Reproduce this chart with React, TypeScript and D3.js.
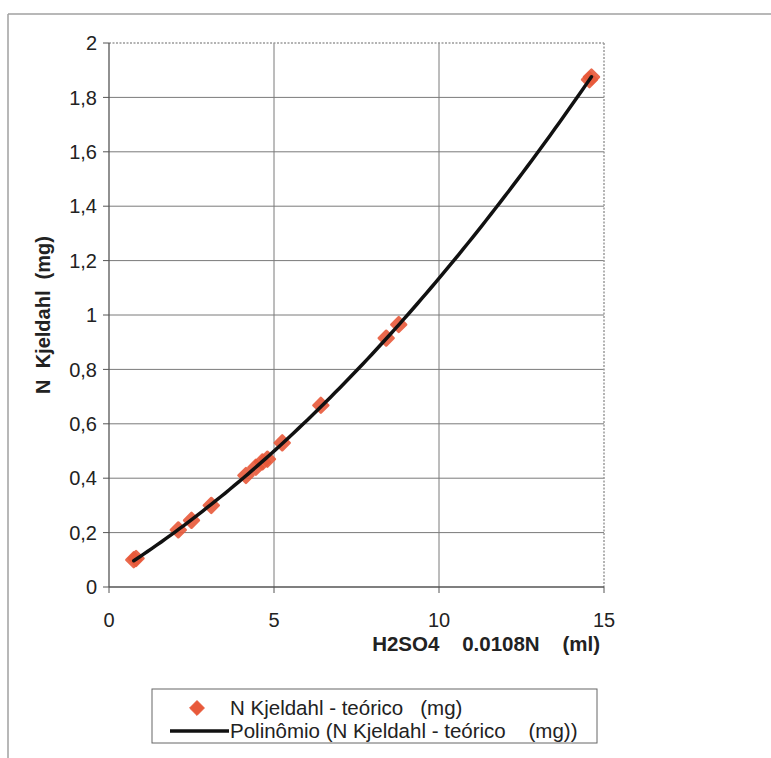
import React from "react";
import * as d3 from "d3";

// Titration volume of H2SO4 0.0108N (ml) and theoretical Kjeldahl nitrogen (mg)
const volumeMl = [0.75, 0.82, 2.1, 2.5, 3.1, 4.15, 4.45, 4.65, 4.8, 5.25, 6.42, 8.4, 8.78, 14.56, 14.62];
const nitrogenMg = [0.1, 0.105, 0.21, 0.245, 0.3, 0.41, 0.44, 0.46, 0.47, 0.53, 0.668, 0.915, 0.965, 1.865, 1.875];

const xTicks = [0, 5, 10, 15];
const yTicks = [0, 0.2, 0.4, 0.6, 0.8, 1, 1.2, 1.4, 1.6, 1.8, 2];

const legendLabels = ["N Kjeldahl - teórico   (mg)", "Polinômio (N Kjeldahl - teórico    (mg))"];

// Second-order least squares trend line
function quadFit(xs: number[], ys: number[]) {
  const n = xs.length;
  let s1 = 0, s2 = 0, s3 = 0, s4 = 0, t0 = 0, t1 = 0, t2 = 0;
  for (let i = 0; i < n; i++) {
    const x = xs[i], y = ys[i];
    s1 += x; s2 += x * x; s3 += x * x * x; s4 += x * x * x * x;
    t0 += y; t1 += x * y; t2 += x * x * y;
  }
  const M = [
    [n, s1, s2, t0],
    [s1, s2, s3, t1],
    [s2, s3, s4, t2],
  ];
  for (let i = 0; i < 3; i++) {
    for (let k = i + 1; k < 3; k++) {
      const f = M[k][i] / M[i][i];
      for (let j = i; j < 4; j++) M[k][j] -= f * M[i][j];
    }
  }
  const c = [0, 0, 0];
  for (let i = 2; i >= 0; i--) {
    let s = M[i][3];
    for (let j = i + 1; j < 3; j++) s -= M[i][j] * c[j];
    c[i] = s / M[i][i];
  }
  return (x: number) => c[0] + c[1] * x + c[2] * x * x;
}

export default function App() {
  const W = 771, H = 758;
  const left = 109, right = 604, top = 43, bottom = 587;
  const x = d3.scaleLinear().domain([0, 15]).range([left, right]);
  const y = d3.scaleLinear().domain([0, 2]).range([bottom, top]);
  const font = "Arial, 'Liberation Sans', sans-serif";

  const fit = quadFit(volumeMl, nitrogenMg);
  const x0 = d3.min(volumeMl)!, x1 = d3.max(volumeMl)!;
  const curvePts = d3.range(0, 101).map((i) => {
    const v = x0 + ((x1 - x0) * i) / 100;
    return [v, fit(v)] as [number, number];
  });
  const line = d3.line<[number, number]>().x((d) => x(d[0])).y((d) => y(d[1]))(curvePts) || "";

  const fmt = (v: number) => String(+v.toFixed(1)).replace(".", ",");
  const diamond = d3.symbol().type(d3.symbolDiamond2).size(140)() || "";

  return (
    <svg width={W} height={H} style={{ position: "absolute", left: 0, top: 0, background: "#fff" }}>
      {/* outer chart frame */}
      <line x1={8} y1={14} x2={W} y2={14} stroke="#a0a0a0" strokeWidth={1.5} />
      <line x1={8} y1={14} x2={8} y2={H} stroke="#a0a0a0" strokeWidth={1.5} />

      {/* horizontal grid */}
      {yTicks.slice(1, -1).map((t) => (
        <line key={"gy" + t} x1={left} x2={right} y1={y(t)} y2={y(t)} stroke="#7a7a7a" strokeWidth={1} />
      ))}
      {/* vertical grid */}
      {xTicks.slice(1, -1).map((t) => (
        <line key={"gx" + t} x1={x(t)} x2={x(t)} y1={top} y2={bottom} stroke="#7a7a7a" strokeWidth={1} />
      ))}
      {/* dotted plot border, top and right */}
      <line x1={left} x2={right} y1={top} y2={top} stroke="#9a9a9a" strokeWidth={1.5} strokeDasharray="2,1.5" />
      <line x1={right} x2={right} y1={top} y2={bottom} stroke="#9a9a9a" strokeWidth={1.5} strokeDasharray="2,1.5" />

      {/* axes */}
      <line x1={left} x2={left} y1={top} y2={bottom} stroke="#555" strokeWidth={1.3} />
      <line x1={left} x2={right} y1={bottom} y2={bottom} stroke="#555" strokeWidth={1.3} />
      {yTicks.map((t) => (
        <g key={"ty" + t}>
          <line x1={left - 6} x2={left} y1={y(t)} y2={y(t)} stroke="#555" strokeWidth={1} />
          <text x={left - 12} y={y(t)} dy="0.36em" textAnchor="end" fontFamily={font} fontSize={20} fill="#222">
            {fmt(t)}
          </text>
        </g>
      ))}
      {xTicks.map((t) => (
        <g key={"tx" + t}>
          <line x1={x(t)} x2={x(t)} y1={bottom} y2={bottom + 6} stroke="#555" strokeWidth={1} />
          <text x={x(t)} y={bottom + 40} textAnchor="middle" fontFamily={font} fontSize={20} fill="#222">
            {t}
          </text>
        </g>
      ))}

      {/* axis titles */}
      <text x={600} y={651} textAnchor="end" fontFamily={font} fontSize={20.5} fontWeight="bold" fill="#222" xmlSpace="preserve">
        {"H2SO4    0.0108N    (ml)"}
      </text>
      <text
        transform={`translate(50, 315) rotate(-90)`}
        textAnchor="middle"
        fontFamily={font}
        fontSize={20}
        fontWeight="bold"
        fill="#222"
        xmlSpace="preserve"
      >
        {"N  Kjeldahl  (mg)"}
      </text>

      {/* data markers */}
      {volumeMl.map((v, i) => (
        <path
          key={"p" + i}
          d={diamond}
          transform={`translate(${x(v)},${y(nitrogenMg[i])})`}
          fill="#e8593a"
          stroke="#e8593a"
          strokeWidth={2.5}
          strokeLinejoin="round"
          opacity={0.9}
        />
      ))}

      {/* polynomial trend line */}
      <path d={line} fill="none" stroke="#111" strokeWidth={3.5} strokeLinecap="round" />

      {/* legend */}
      <rect x={152} y={689} width={445} height={54} fill="#fff" stroke="#666" strokeWidth={1} />
      <path d={diamond} transform="translate(197,708)" fill="#e8593a" stroke="#e8593a" strokeWidth={1} strokeLinejoin="round" />
      <text x={230} y={715} fontFamily={font} fontSize={20.5} fill="#222" xmlSpace="preserve">
        {legendLabels[0]}
      </text>
      <line x1={170} x2={229} y1={731} y2={731} stroke="#111" strokeWidth={3.5} />
      <text x={230} y={738} fontFamily={font} fontSize={20.5} fill="#222" xmlSpace="preserve">
        {legendLabels[1]}
      </text>
    </svg>
  );
}
